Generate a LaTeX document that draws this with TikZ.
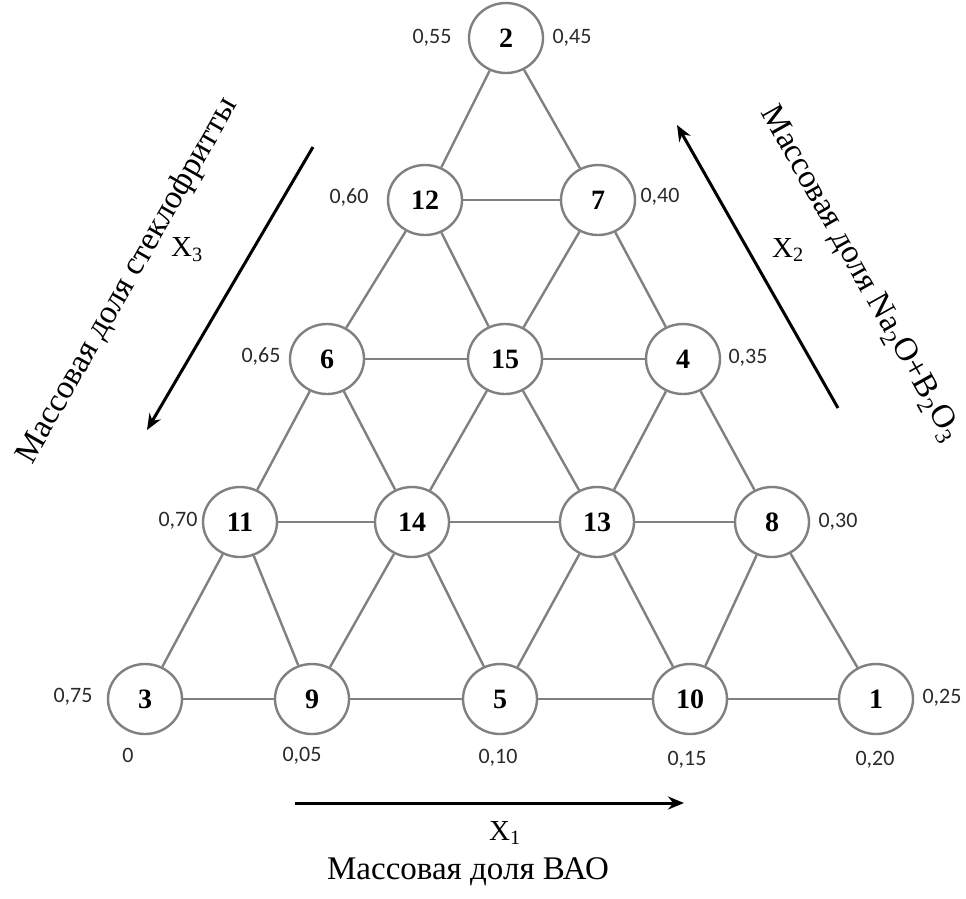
\documentclass[tikz,border=0pt]{standalone}
\usepackage{fontspec}
\setmainfont{Liberation Serif}
\newfontfamily\lblfont{Carlito}
\usetikzlibrary{shapes.geometric,arrows.meta}
\definecolor{edgegray}{HTML}{808080}
\definecolor{lblgray}{HTML}{2A2A2A}
\begin{document}
\begin{tikzpicture}[x=1pt,y=-1pt,
  pt/.style={ellipse,draw=edgegray,line width=2.4pt,fill=white,minimum width=74pt,minimum height=70pt,inner sep=0pt,font=\fontsize{28}{28}\selectfont\bfseries},
  link/.style={draw=edgegray,line width=2.4pt},
  val/.style={font=\lblfont\fontsize{22}{22}\selectfont,text=lblgray,inner sep=0pt},
  axarrow/.style={line width=3pt,-{Stealth[length=16pt,width=13pt]}},
  axname/.style={font=\fontsize{33}{33}\selectfont,inner sep=0pt},
  xname/.style={font=\fontsize{29}{29}\selectfont,inner sep=0pt}]
\useasboundingbox (0,0) rectangle (966,898);
% nodes
\node[pt] (n2) at (506,38) {2};
\node[pt] (n12) at (425,200) {12};
\node[pt] (n7) at (598,200) {7};
\node[pt] (n6) at (327,359) {6};
\node[pt] (n15) at (505,359) {15};
\node[pt] (n4) at (683,359) {4};
\node[pt] (n11) at (240,522) {11};
\node[pt] (n14) at (412,522) {14};
\node[pt] (n13) at (597,522) {13};
\node[pt] (n8) at (772,522) {8};
\node[pt] (n3) at (145,699) {3};
\node[pt] (n9) at (312,699) {9};
\node[pt] (n5) at (500,699) {5};
\node[pt] (n10) at (690,699) {10};
\node[pt] (n1) at (876,699) {1};
% edges
\path[link] (n12) -- (n7);
\path[link] (n6) -- (n15);
\path[link] (n15) -- (n4);
\path[link] (n11) -- (n14);
\path[link] (n14) -- (n13);
\path[link] (n13) -- (n8);
\path[link] (n3) -- (n9);
\path[link] (n9) -- (n5);
\path[link] (n5) -- (n10);
\path[link] (n10) -- (n1);
\path[link] (n2) -- (n12);
\path[link] (n2) -- (n7);
\path[link] (n12) -- (n6);
\path[link] (n12) -- (n15);
\path[link] (n7) -- (n15);
\path[link] (n7) -- (n4);
\path[link] (n6) -- (n11);
\path[link] (n6) -- (n14);
\path[link] (n15) -- (n14);
\path[link] (n15) -- (n13);
\path[link] (n4) -- (n13);
\path[link] (n4) -- (n8);
\path[link] (n11) -- (n3);
\path[link] (n11) -- (n9);
\path[link] (n14) -- (n9);
\path[link] (n14) -- (n5);
\path[link] (n13) -- (n5);
\path[link] (n13) -- (n10);
\path[link] (n8) -- (n10);
\path[link] (n8) -- (n1);
% value labels
\node[val] (v55) at (432,38) {0,55};
\node[val] (v45) at (572,38) {0,45};
\node[val] (v60) at (349,197) {0,60};
\node[val] (v40) at (660,197) {0,40};
\node[val] (v65) at (261,356) {0,65};
\node[val] (v35) at (748,358) {0,35};
\node[val] (v70) at (178,521) {0,70};
\node[val] (v30) at (838,522) {0,30};
\node[val] (v75) at (73,697) {0,75};
\node[val] (v25) at (942,698) {0,25};
\node[val] (b0) at (128,755) {0};
\node[val] (b05) at (302,756) {0,05};
\node[val] (b10) at (498,758) {0,10};
\node[val] (b15) at (687,760) {0,15};
\node[val] (b20) at (875,760) {0,20};
% axis arrows
\coordinate (a1s) at (295,803);
\coordinate (a1e) at (684,803);
\draw[axarrow] (a1s) -- (a1e);
\coordinate (a3s) at (313,147);
\coordinate (a3e) at (147,430);
\draw[axarrow] (a3s) -- (a3e);
\coordinate (a2s) at (838,408);
\coordinate (a2e) at (677,125);
\draw[axarrow] (a2s) -- (a2e);
% axis labels
\node[xname] (x1) at (505,833) {X\textsubscript{1}};
\node[xname] (x3) at (187,250) {X\textsubscript{3}};
\node[xname] (x2) at (788,250) {X\textsubscript{2}};
\node[axname] (t1) at (468,872) {Массовая доля ВАО};
\node[axname,rotate=60.3] (t3) at (128,281) {Массовая доля стеклофритты};
\node[axname,rotate=-60.7] (t2) at (860,274) {Массовая доля Na\textsubscript{2}O+B\textsubscript{2}O\textsubscript{3}};
\end{tikzpicture}
\end{document}
